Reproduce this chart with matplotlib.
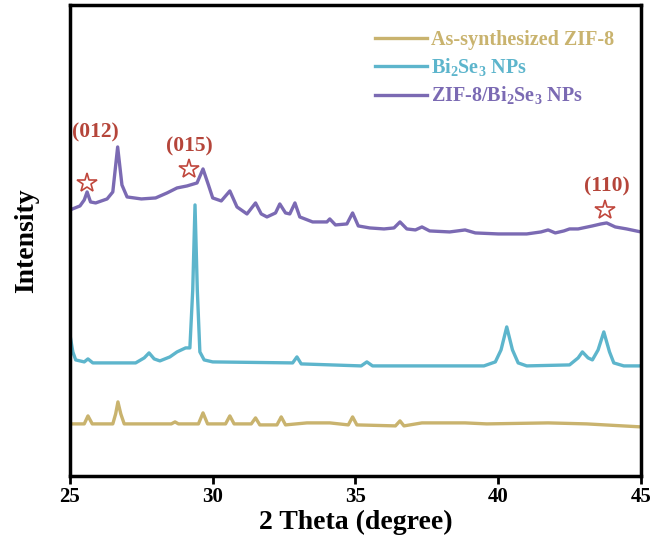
import matplotlib
matplotlib.use("Agg")
import matplotlib.pyplot as plt

plt.rcParams['font.family'] = 'Liberation Serif'
plt.rcParams['font.weight'] = 'bold'
plt.rcParams['mathtext.fontset'] = 'custom'
plt.rcParams['mathtext.rm'] = 'Liberation Serif:bold'
plt.rcParams['mathtext.bf'] = 'Liberation Serif:bold'

# 2 theta (degree) and intensity (a.u., stacked)
zif8_x = [25.0, 25.5, 25.63, 25.78, 26.5, 26.6, 26.68, 26.78, 26.9, 28.55, 28.68, 28.8,
          29.5, 29.66, 29.82, 30.45, 30.6, 30.75, 31.35, 31.5, 31.65, 32.25, 32.4, 32.55,
          33.3, 34.1, 34.75, 34.9, 35.05, 36.4, 36.56, 36.7, 37.33, 38.84, 39.6, 41.75,
          43.1, 45.0]
zif8_y = [49, 49, 57, 49, 49, 59, 71, 59, 49, 49, 51, 49,
          49, 60, 49, 49, 57, 49, 49, 55, 48, 48, 56, 48,
          50, 50, 48, 56, 48, 47, 52, 47, 50, 50, 49, 50,
          49, 46]

bise_x = [25.0, 25.1, 25.2, 25.5, 25.63, 25.8, 27.3, 27.6, 27.77, 27.95, 28.15, 28.5,
          28.75, 29.05, 29.2, 29.3, 29.38, 29.46, 29.55, 29.7, 30.0, 32.8, 32.95, 33.1,
          35.2, 35.4, 35.6, 39.5, 39.9, 40.1, 40.3, 40.5, 40.7, 41.0, 42.5, 42.8,
          42.95, 43.15, 43.3, 43.5, 43.7, 43.9, 44.05, 44.4, 45.0]
bise_y = [138, 121, 113, 111, 114, 110, 110, 115, 120, 114, 112, 116,
          121, 125, 125, 183, 268, 183, 121, 113, 111, 110, 116, 109,
          107, 111, 107, 107, 111, 123, 146, 123, 110, 107, 108, 115,
          121, 115, 113, 123, 141, 121, 110, 107, 107]

comp_x = [25.0, 25.35, 25.5, 25.6, 25.72, 25.9, 26.3, 26.5, 26.67, 26.82, 27.0, 27.5,
          28.0, 28.4, 28.75, 29.1, 29.45, 29.66, 29.85, 30.0, 30.3, 30.6, 30.85, 31.2,
          31.5, 31.7, 31.9, 32.2, 32.35, 32.55, 32.7, 32.88, 33.05, 33.5, 34.0, 34.1,
          34.3, 34.7, 34.9, 35.1, 35.5, 36.0, 36.35, 36.56, 36.8, 37.1, 37.33, 37.6,
          38.3, 38.84, 39.2, 40.0, 41.0, 41.5, 41.75, 42.0, 42.3, 42.5, 42.8, 43.3,
          43.6, 43.8, 44.1, 44.5, 45.0]
comp_y = [263, 267, 273, 281, 271, 270, 274, 281, 326, 288, 276, 274,
          275, 280, 285, 287, 290, 304, 288, 275, 272, 282, 266, 259,
          270, 259, 256, 260, 269, 260, 259, 270, 256, 251, 251, 254,
          248, 249, 260, 247, 245, 244, 245, 251, 244, 243, 246, 242,
          241, 243, 240, 239, 239, 241, 243, 240, 242, 244, 244, 247,
          249, 250, 246, 244, 241]

labels = ['As-synthesized ZIF-8', r'Bi$_{2}$Se$_{3}$ NPs', r'ZIF-8/Bi$_{2}$Se$_{3}$ NPs']
colors = ['#C9B36E', '#5DB5CC', '#7B6AB3']

peak_names = ['(012)', '(015)', '(110)']
star_x = [25.6, 29.17, 43.74]
star_y = [290, 304, 263]
name_x = [25.9, 29.17, 43.8]
name_y = [340, 326, 286]

fig = plt.figure(figsize=(6.54, 5.54), dpi=100)
ax = fig.add_axes([0.107, 0.141, 0.873, 0.85])

for xs, ys, lab, c in zip([zif8_x, bise_x, comp_x], [zif8_y, bise_y, comp_y], labels, colors):
    ax.plot(xs, ys, color=c, lw=2.4, label=lab)

ax.plot(star_x, star_y, ls='none', marker='*', ms=15, mfc='white', mec='#C0473D', mew=1.2)
for px, py, s in zip(name_x, name_y, peak_names):
    ax.text(px, py, s, color='#B5453A', fontsize=15.5, ha='center', va='center', fontweight='bold')

ax.set_xlim(25, 45)
ax.set_ylim(-3, 468)
ax.set_xticks([25, 30, 35, 40, 45])
ax.set_yticks([])
ax.tick_params(axis='x', direction='out', length=6, width=2, labelsize=15, pad=2)
for sp in ax.spines.values():
    sp.set_linewidth(2.5)

ax.set_xlabel('2 Theta (degree)', fontsize=20, fontweight='bold', labelpad=2)
ax.set_ylabel('Intensity', fontsize=20, fontweight='bold', labelpad=22)

leg = ax.legend(loc='upper right', frameon=False, fontsize=14.5, handlelength=2.6,
                handletextpad=0.2, labelspacing=0.3, bbox_to_anchor=(0.985, 0.985))
for t, c in zip(leg.get_texts(), colors):
    t.set_color(c)

fig.savefig('out.png', dpi=100)
